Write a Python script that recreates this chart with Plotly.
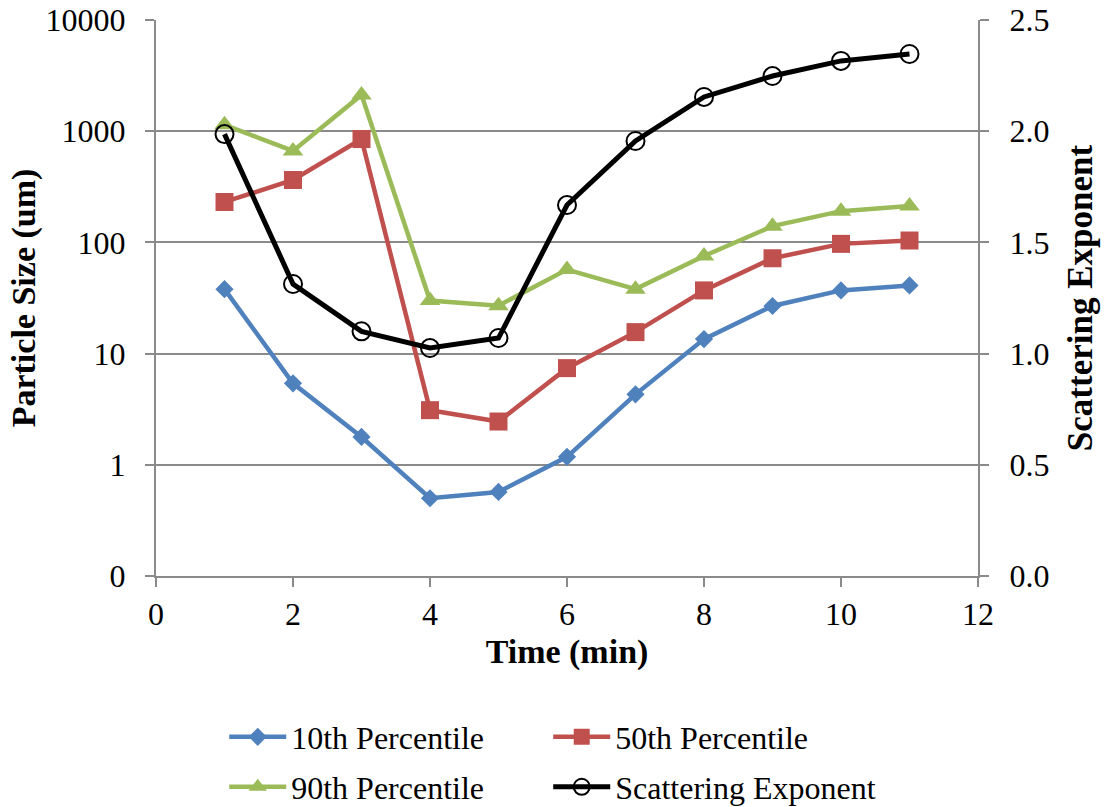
import plotly.graph_objects as go

time_min = [1, 2, 3, 4, 5, 6, 7, 8, 9, 10, 11]
p10 = [38, 5.4, 1.78, 0.50, 0.57, 1.18, 4.3, 13.5, 26.8, 37, 41]
p50 = [231, 364, 850, 3.1, 2.45, 7.4, 15.6, 37, 72, 97, 104]
p90 = [1140, 665, 2120, 30, 27, 57, 38, 75.5, 140, 191, 212]
scat_exp = [1.987, 1.313, 1.10, 1.025, 1.07, 1.668, 1.956, 2.154, 2.248, 2.316, 2.347]

left_tickvals = [0.1, 1, 10, 100, 1000, 10000]
left_ticktext = ["0", "1", "10", "100", "1000", "10000"]

FONT = "Liberation Serif, Times New Roman, serif"
TICK_FS = 32
TITLE_FS = 34
LEG_FS = 32
GRID = "#8a8a8a"

fig = go.Figure()
fig.add_trace(go.Scatter(x=time_min, y=p10, name="10th Percentile", mode="lines+markers",
                         line=dict(color="#4F81BD", width=4.5),
                         marker=dict(symbol="diamond", size=14, color="#4F81BD"),
                         legend="legend"))
fig.add_trace(go.Scatter(x=time_min, y=p50, name="50th Percentile", mode="lines+markers",
                         line=dict(color="#C0504D", width=4.5),
                         marker=dict(symbol="square", size=18, color="#C0504D"),
                         legend="legend", legendwidth=290))
fig.add_trace(go.Scatter(x=time_min, y=p90, name="90th Percentile", mode="lines+markers",
                         line=dict(color="#9BBB59", width=4.5),
                         marker=dict(symbol="triangle-up", size=18, color="#9BBB59"),
                         legend="legend2"))
fig.add_trace(go.Scatter(x=time_min, y=scat_exp, name="Scattering Exponent", mode="lines+markers",
                         yaxis="y2",
                         line=dict(color="black", width=5),
                         marker=dict(symbol="circle-open", size=18, color="black",
                                     line=dict(width=2, color="black")),
                         legend="legend2", legendwidth=290))

axis_common = dict(showline=True, linecolor=GRID, linewidth=2, ticks="outside",
                   ticklen=9, tickcolor=GRID, tickwidth=2, automargin=False,
                   tickfont=dict(family=FONT, size=TICK_FS, color="black"))

leg_common = dict(orientation="h", x=0.083, xanchor="left", yanchor="middle",
                  entrywidth=252, entrywidthmode="pixels",
                  font=dict(family=FONT, size=LEG_FS, color="black"),
                  bgcolor="rgba(0,0,0,0)", itemwidth=57)

fig.update_layout(
    width=1104, height=807,
    margin=dict(l=156, r=126, t=20, b=231, autoexpand=False),
    paper_bgcolor="white", plot_bgcolor="white",
    font=dict(family=FONT, size=TICK_FS, color="black"),
    xaxis=dict(range=[0, 12], dtick=2, tick0=0, showgrid=False, zeroline=False,
               title=dict(text="<b>Time (min)</b>", font=dict(family=FONT, size=TITLE_FS), standoff=8),
               **axis_common),
    yaxis=dict(type="log", range=[-1, 4], tickvals=left_tickvals, ticktext=left_ticktext,
               showgrid=True, gridcolor=GRID, gridwidth=2, zeroline=False,
               ticklabelstandoff=13,
               title=dict(text="<b>Particle Size (um)</b>", font=dict(family=FONT, size=TITLE_FS), standoff=0),
               **axis_common),
    yaxis2=dict(overlaying="y", side="right", range=[0, 2.5], dtick=0.5, tick0=0,
                tickformat=".1f", showgrid=False, zeroline=False,
                ticklabelstandoff=14,
                title=dict(text="<b>Scattering Exponent</b>", font=dict(family=FONT, size=35), standoff=19),
                **axis_common),
    legend=dict(y=-0.2896, **leg_common),
    legend2=dict(y=-0.3795, **leg_common),
)

fig.write_html("out.html")
